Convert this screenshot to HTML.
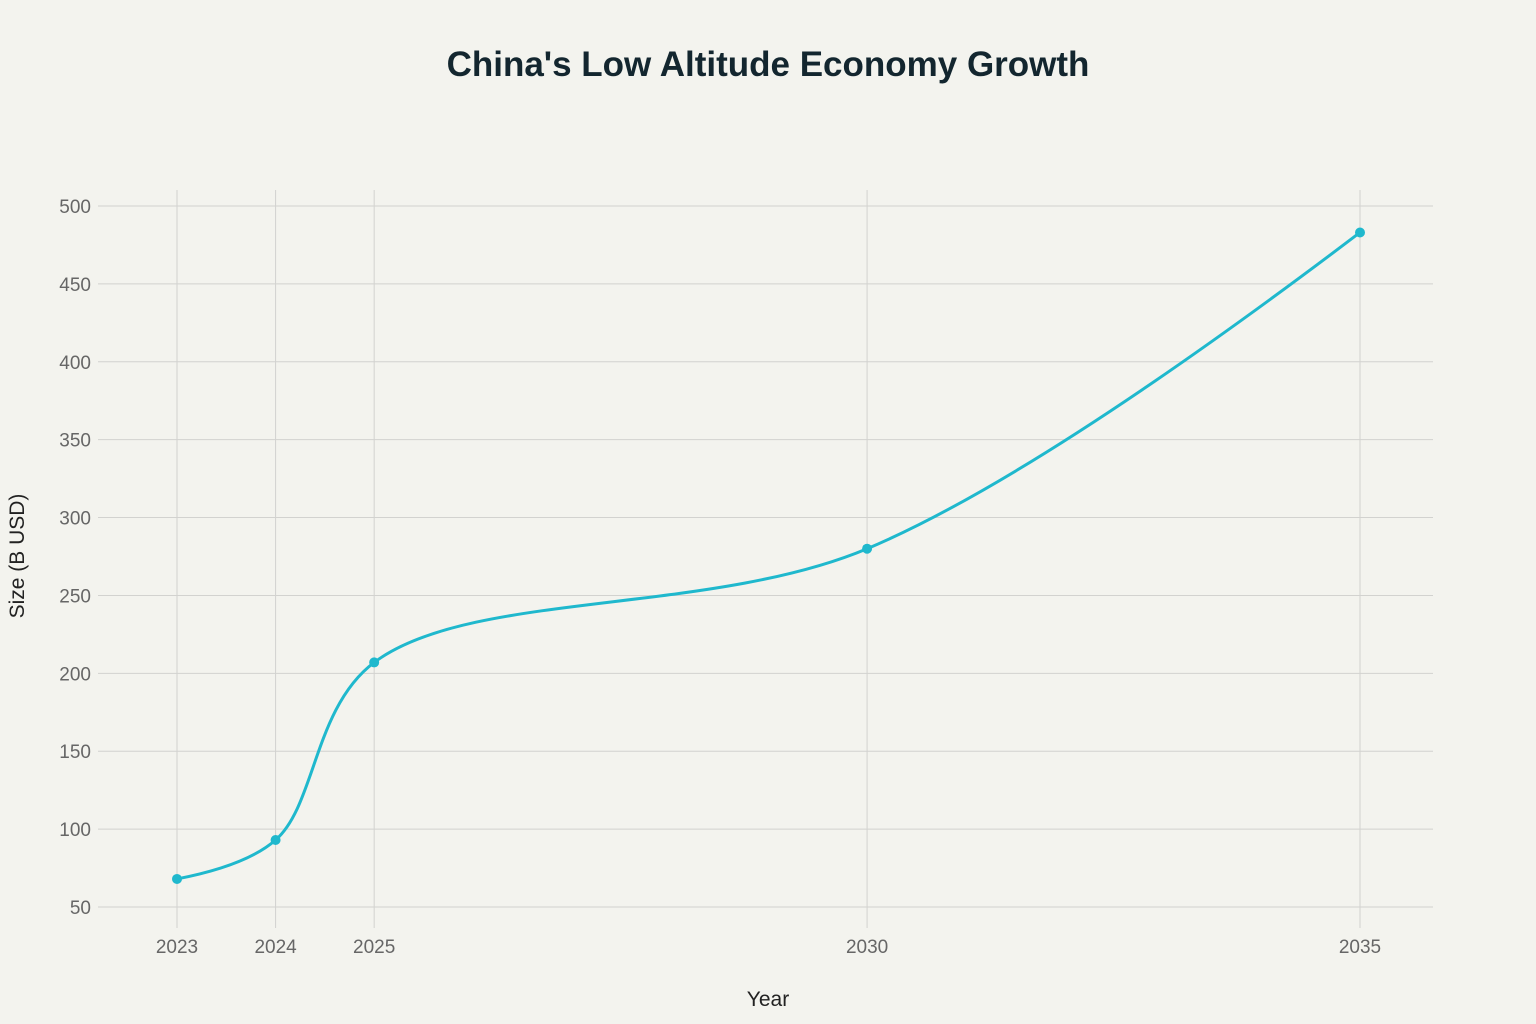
<!DOCTYPE html>
<html><head><meta charset="utf-8"><style>
html,body{margin:0;padding:0;background:#f3f3ee;}
svg{display:block;font-family:"Liberation Sans",sans-serif;}
</style></head><body>
<svg id="chart" width="1536" height="1024" viewBox="0 0 1536 1024">
<rect width="1536" height="1024" fill="#f3f3ee"/>
<text x="768" y="76" text-anchor="middle" font-size="35" font-weight="bold" fill="#13262f">China's Low Altitude Economy Growth</text>
<g id="grid"></g>
<g id="ticks"></g>
<g id="series"></g>
<text x="768" y="1006" text-anchor="middle" font-size="21" fill="#222">Year</text>
<text transform="translate(24,556) rotate(-90)" text-anchor="middle" font-size="21" fill="#222">Size (B USD)</text>
</svg>
<script>
const years = [2023, 2024, 2025, 2030, 2035];
const sizes = [68, 93, 207, 280, 483];
const yTicks = [50, 100, 150, 200, 250, 300, 350, 400, 450, 500];
const NS = "http://www.w3.org/2000/svg";
const xPix = v => 177 + (v - 2023) * (1360 - 177) / 12;
const yPix = v => 907 - (v - 50) * (907 - 206) / 450;
function mk(tag, attrs, parent){const e=document.createElementNS(NS,tag);for(const k in attrs)e.setAttribute(k,attrs[k]);parent.appendChild(e);return e;}
const grid=document.getElementById('grid'), ticks=document.getElementById('ticks'), series=document.getElementById('series');
yTicks.forEach(t=>{
  const l=mk('line',{x1:98,x2:1433,y1:yPix(t),y2:yPix(t),stroke:'#d2d2cf','stroke-width':1},grid);
  
  
  const tx=mk('text',{x:91,y:yPix(t)+7,'text-anchor':'end','font-size':19,fill:'#666'},ticks);
  tx.textContent=t;
  
  
});
years.forEach(y=>{
  const l=mk('line',{x1:xPix(y),x2:xPix(y),y1:190,y2:928,stroke:'#d2d2cf','stroke-width':1},grid);
  
  
  const tx=mk('text',{x:xPix(y),y:953,'text-anchor':'middle','font-size':19,fill:'#666'},ticks);
  tx.textContent=y;
  
  
});
// plotly-like spline
const pts=years.map((y,i)=>[xPix(y),yPix(sizes[i])]);
function ctrl(p0,p1,p2,s){
  const d1x=p0[0]-p1[0],d1y=p0[1]-p1[1],d2x=p2[0]-p1[0],d2y=p2[1]-p1[1];
  const d1a=Math.pow(d1x*d1x+d1y*d1y,0.25),d2a=Math.pow(d2x*d2x+d2y*d2y,0.25);
  const nx=(d2a*d2a*d1x-d1a*d1a*d2x)*s,ny=(d2a*d2a*d1y-d1a*d1a*d2y)*s;
  const den1=3*d2a*(d1a+d2a),den2=3*d1a*(d1a+d2a);
  return [[p1[0]+nx/den1,p1[1]+ny/den1],[p1[0]-nx/den2,p1[1]-ny/den2]];
}
const tg=[];
for(let i=1;i<pts.length-1;i++)tg.push(ctrl(pts[i-1],pts[i],pts[i+1],1));
let d=`M${pts[0]}Q${tg[0][0]} ${pts[1]}`;
for(let i=2;i<pts.length-1;i++)d+=`C${tg[i-2][1]} ${tg[i-1][0]} ${pts[i]}`;
d+=`Q${tg[tg.length-1][1]} ${pts[pts.length-1]}`;
const path=mk('path',{d:d,fill:'none',stroke:'#1fb8cd','stroke-width':3},series);


pts.forEach(p=>{
  const c=mk('circle',{cx:p[0],cy:p[1],r:5,fill:'#1fb8cd'},series);
  
  
});
</script>
</body></html>
